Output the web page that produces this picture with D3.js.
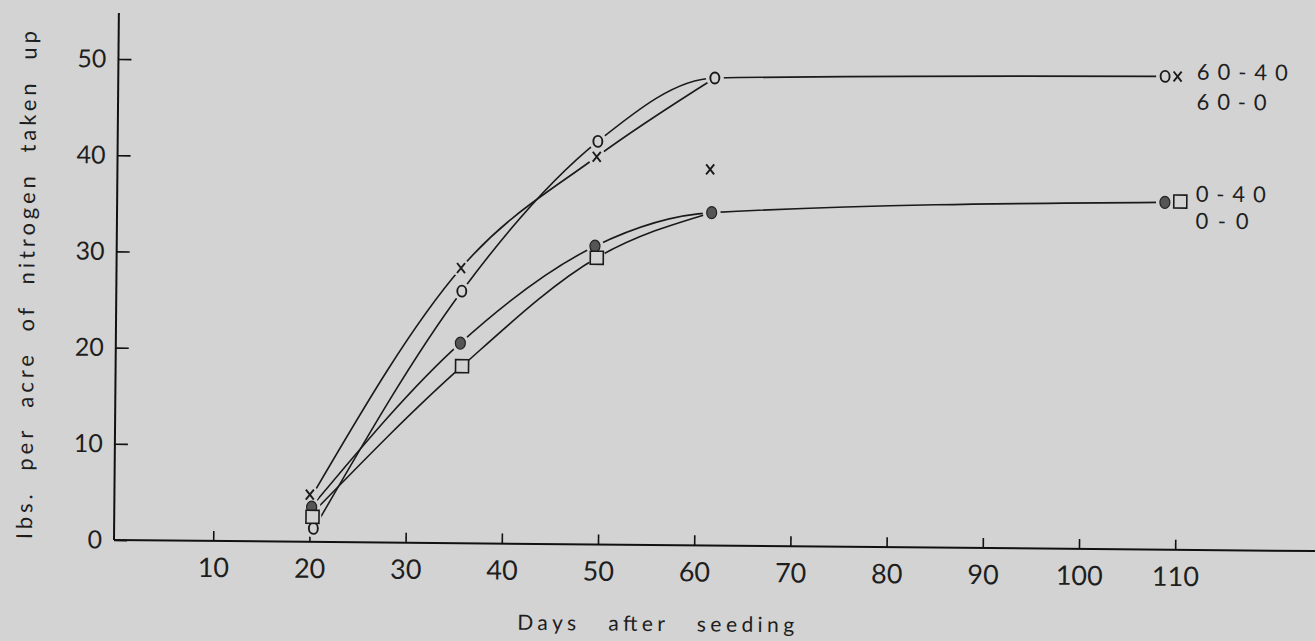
<!DOCTYPE html>
<html lang="en">
<head>
<meta charset="UTF-8">
<title>Nitrogen uptake</title>
<style>
    body { margin: 0; background: #d3d3d3; }
    svg text { font-family: Lato, "Noto Sans", sans-serif; font-weight: 400; fill: #1e1e1e; }
</style>
</head>
<body>
<script src="https://cdn.jsdelivr.net/npm/d3@7"></script>
<script>
    var w = 1315, h = 641;
    var bg = "#d3d3d3";

    // axis ticks
    var tickDays = [10, 20, 30, 40, 50, 60, 70, 80, 90, 100, 110];
    var tickValues = [0, 10, 20, 30, 40, 50];

    var days6040 = [20.4, 35.6, 49.6, 61.7, 108.5];   // o
    var n6040    = [1.4, 26.2, 41.9, 48.6, 49.2];
    var days600  = [20.0, 35.5, 49.5, 61.3, 109.8];  // x
    var n600     = [4.9, 28.6, 40.3, 39.1, 49.2];
    var days040  = [20.2, 35.5, 49.4, 61.5, 108.6];  // filled circle
    var n040     = [3.6, 20.8, 31.0, 34.6, 36.1];
    var days00   = [20.3, 35.7, 49.6, 110.2];        // square
    var n00      = [2.6, 18.4, 29.8, 36.2];

    // hand drawn curves
    var curveDays6040 = [20.6, 35.6, 49.6, 61.7, 108.0];
    var curve6040     = [1.6, 26.2, 41.9, 48.6, 49.2];
    var curveDays600  = [20.3, 35.5, 49.5, 61.7];
    var curve600      = [4.9, 28.6, 40.3, 48.6];
    var curveDays040  = [20.4, 35.5, 49.4, 61.5, 108.0];
    var curve040      = [3.9, 20.8, 31.0, 34.6, 36.1];
    var curveDays00   = [20.4, 35.7, 49.6, 61.5];
    var curve00       = [3.1, 18.4, 29.8, 34.6];

    var xScale = d3.scaleLinear().domain([0, 124]).range([117, 117 + 124 * 9.62]);
    var yScale = d3.scaleLinear().domain([0, 50]).range([540, 59]);

    var svg = d3.select("body").append("svg")
        .attr("width", w).attr("height", h);
    svg.append("rect").attr("width", w).attr("height", h).attr("fill", bg);

    // the scan is slightly rotated
    var g = svg.append("g").attr("transform", "rotate(0.53,115,540)");

    // axes
    g.append("line").attr("x1", 114).attr("x2", 1330)
        .attr("y1", yScale(0)).attr("y2", yScale(0))
        .attr("stroke", "#111").attr("stroke-width", 2);
    g.append("line").attr("x1", 114).attr("x2", 114)
        .attr("y1", yScale(0)).attr("y2", 13)
        .attr("stroke", "#111").attr("stroke-width", 2);

    var xAxis = g.append("g")
        .attr("transform", "translate(0," + yScale(0) + ")")
        .call(d3.axisBottom(xScale).tickValues(tickDays).tickSize(-10).tickPadding(17));
    xAxis.select(".domain").remove();
    xAxis.selectAll("line").attr("stroke", "#111").attr("stroke-width", 1.6);
    xAxis.selectAll("text").style("font-size", "27px").attr("fill", "#1e1e1e");

    var yAxis = g.append("g")
        .attr("transform", "translate(114,0)")
        .call(d3.axisLeft(yScale).tickValues(tickValues).tickSize(-13).tickPadding(12));
    yAxis.select(".domain").remove();
    yAxis.selectAll("line").attr("stroke", "#111").attr("stroke-width", 1.6);
    yAxis.selectAll("text").style("font-size", "25px").attr("fill", "#1e1e1e");

    // axis titles
    g.append("text")
        .attr("x", 518).attr("y", 626)
        .attr("textLength", 277).attr("lengthAdjust", "spacing")
        .style("font-size", "21px").style("word-spacing", "18px")
        .text("Days after seeding");
    g.append("text")
        .attr("transform", "translate(32,540) rotate(-90)")
        .attr("textLength", 508).attr("lengthAdjust", "spacing")
        .style("font-size", "22px").style("word-spacing", "10px")
        .text("Ibs. per acre of nitrogen taken up");

    // curves
    var line = d3.line()
        .x(function(d) { return xScale(d[0]); })
        .y(function(d) { return yScale(d[1]); })
        .curve(d3.curveMonotoneX);
    var curves = [
        [curveDays6040, curve6040],
        [curveDays600, curve600],
        [curveDays040, curve040],
        [curveDays00, curve00]
    ];
    g.selectAll("path.fit")
        .data(curves)
        .enter()
        .append("path")
        .attr("class", "fit")
        .attr("d", function(c) { return line(d3.zip(c[0], c[1])); })
        .attr("fill", "none")
        .attr("stroke", "#1a1a1a")
        .attr("stroke-width", 1.6);

    function pts(days, vals) { return d3.zip(days, vals); }

    // halos so the lines stop short of the symbols
    var allPts = pts(days6040, n6040).concat(pts(days600, n600), pts(days040, n040), pts(days00, n00));
    g.selectAll("circle.halo")
        .data(allPts)
        .enter()
        .append("circle")
        .attr("class", "halo")
        .attr("cx", function(d) { return xScale(d[0]); })
        .attr("cy", function(d) { return yScale(d[1]); })
        .attr("r", 9)
        .attr("fill", bg);

    // o
    g.selectAll("ellipse.o")
        .data(pts(days6040, n6040))
        .enter()
        .append("ellipse")
        .attr("class", "o")
        .attr("cx", function(d) { return xScale(d[0]); })
        .attr("cy", function(d) { return yScale(d[1]); })
        .attr("rx", 4.5).attr("ry", 5.5)
        .attr("fill", "none").attr("stroke", "#1a1a1a").attr("stroke-width", 1.9);

    // x
    g.selectAll("path.x")
        .data(pts(days600, n600))
        .enter()
        .append("path")
        .attr("class", "x")
        .attr("transform", function(d) { return "translate(" + xScale(d[0]) + "," + yScale(d[1]) + ")"; })
        .attr("d", "M-4,-5L4,5M4,-5L-4,5")
        .attr("stroke", "#1a1a1a").attr("stroke-width", 1.9);

    // filled circle
    g.selectAll("ellipse.f")
        .data(pts(days040, n040))
        .enter()
        .append("ellipse")
        .attr("class", "f")
        .attr("cx", function(d) { return xScale(d[0]); })
        .attr("cy", function(d) { return yScale(d[1]); })
        .attr("rx", 5).attr("ry", 6)
        .attr("fill", "#555").attr("stroke", "#222").attr("stroke-width", 1.2);

    // square
    g.selectAll("rect.sq")
        .data(pts(days00, n00))
        .enter()
        .append("rect")
        .attr("class", "sq")
        .attr("x", function(d) { return xScale(d[0]) - 6.5; })
        .attr("y", function(d) { return yScale(d[1]) - 6.5; })
        .attr("width", 13).attr("height", 13)
        .attr("fill", bg).attr("stroke", "#1a1a1a").attr("stroke-width", 1.6);

    // treatment labels
    var labels = [
        { t: "60-40", v: n6040[4], dy: 3, len: 91 },
        { t: "60-0", v: n6040[4], dy: 33, len: 70 },
        { t: "0-40", v: n040[4], dy: -1, len: 70 },
        { t: "0-0", v: n040[4], dy: 26, len: 53 }
    ];
    g.selectAll("text.lab")
        .data(labels)
        .enter()
        .append("text")
        .attr("class", "lab")
        .attr("x", xScale(111.8))
        .attr("y", function(d) { return yScale(d.v) + d.dy; })
        .attr("textLength", function(d) { return d.len; })
        .attr("lengthAdjust", "spacing")
        .style("font-size", "22px")
        .text(function(d) { return d.t; });
</script>
</body>
</html>
